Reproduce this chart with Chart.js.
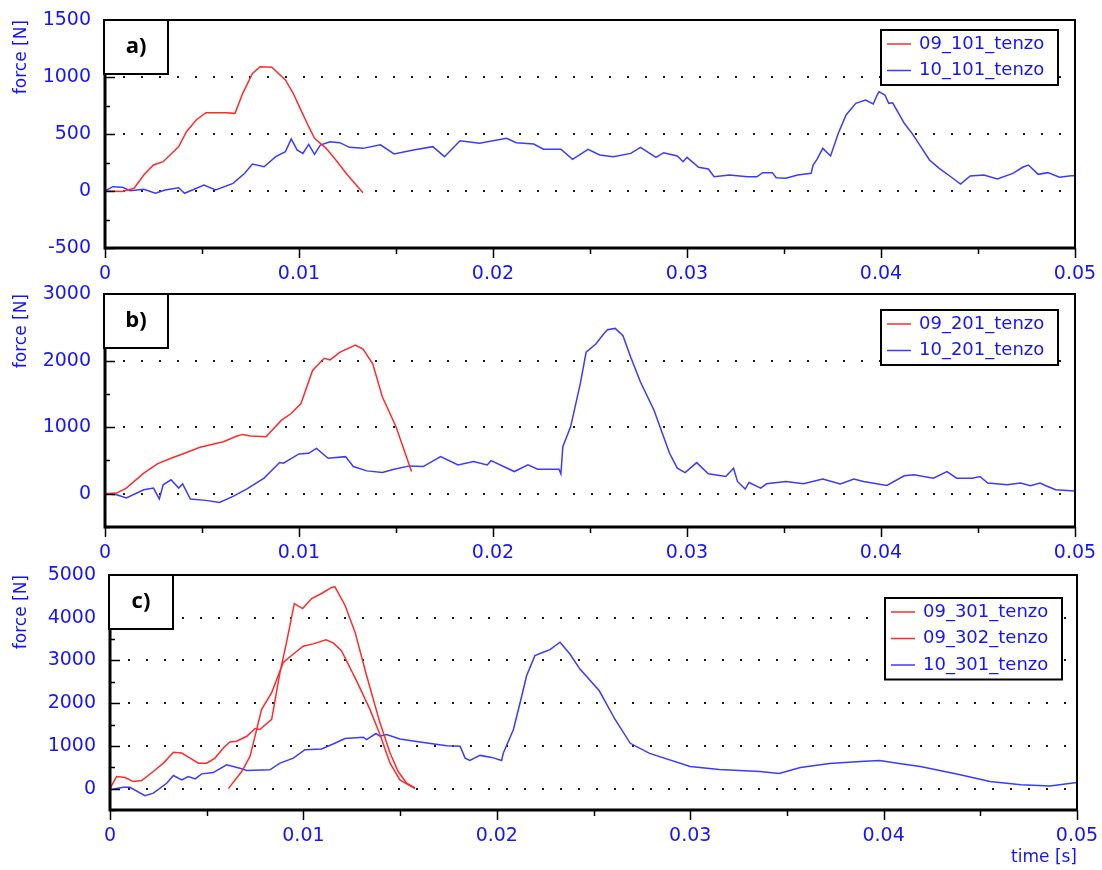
<!DOCTYPE html>
<html>
<head>
<meta charset="utf-8">
<script src="https://cdn.jsdelivr.net/npm/chart.js@4.4.0/dist/chart.umd.min.js"></script>
<style>
    body { margin: 0; background: #ffffff; }
    #wrap { position: relative; width: 1102px; height: 870px; overflow: hidden; }
    canvas { position: absolute; left: 0; }
</style>
</head>
<body>
<div id="wrap">
    <canvas id="panelA" width="1102" height="285" style="top:0px"></canvas>
    <canvas id="panelB" width="1102" height="285" style="top:280px"></canvas>
    <canvas id="panelC" width="1102" height="310" style="top:560px"></canvas>
</div>
<script>
// Force traces (time in s, force in N)
const xTickValues = [0, 0.01, 0.02, 0.03, 0.04, 0.05];
const xTickLabels = ['0', '0.01', '0.02', '0.03', '0.04', '0.05'];

const yTicksA = [-500, 0, 500, 1000, 1500];
const yTicksB = [0, 1000, 2000, 3000];
const yTicksC = [0, 1000, 2000, 3000, 4000, 5000];

// panel a)
const timeA101_09 = [0, 0.0009, 0.0015, 0.0020, 0.0025, 0.0030, 0.0038, 0.0042, 0.0047, 0.0052,
    0.0062, 0.0067, 0.0071, 0.0076, 0.0080, 0.0086, 0.0093, 0.0097, 0.0101, 0.0105,
    0.0108, 0.0114, 0.0119, 0.0125, 0.0133];
const forceA101_09 = [0, -5, 24, 140, 228, 257, 389, 520, 623, 687,
    687, 681, 857, 1032, 1090, 1085, 974, 857, 710, 564,
    462, 374, 272, 140, -15];

const timeA101_10 = [0, 0.0004, 0.0009, 0.0013, 0.0020, 0.0026, 0.0031, 0.0038, 0.0041, 0.0051,
    0.0057, 0.0066, 0.0072, 0.0076, 0.0082, 0.0088, 0.0093, 0.0096, 0.0099, 0.0102,
    0.0105, 0.0108, 0.0111, 0.0116, 0.0121, 0.0126, 0.0133, 0.0142, 0.0149, 0.0159,
    0.0169, 0.0175, 0.0183, 0.0193, 0.0207, 0.0212, 0.0221, 0.0226, 0.0235, 0.0241,
    0.0249, 0.0255, 0.0262, 0.0271, 0.0276, 0.0284, 0.0288, 0.0295, 0.0298, 0.0300,
    0.0306, 0.0311, 0.0314, 0.0322, 0.0331, 0.0336, 0.0339, 0.0344, 0.0346, 0.0351,
    0.0357, 0.0364, 0.0365, 0.0367, 0.0370, 0.0374, 0.0378, 0.0382, 0.0387, 0.0392,
    0.0396, 0.0398, 0.0399, 0.0402, 0.0404, 0.0406, 0.0412, 0.0416, 0.0420, 0.0425,
    0.0430, 0.0436, 0.0441, 0.0446, 0.0453, 0.0460, 0.0468, 0.0473, 0.0476, 0.0481,
    0.0486, 0.0492, 0.0498, 0.0500];
const forceA101_10 = [0, 38, 33, 3, 15, -20, 9, 29, -20, 53,
    9, 67, 155, 237, 213, 301, 345, 456, 360, 330,
    409, 322, 403, 432, 424, 383, 374, 405, 325, 360,
    389, 301, 441, 418, 462, 424, 412, 366, 366, 278,
    366, 316, 301, 330, 383, 295, 336, 307, 257, 295,
    208, 193, 125, 140, 125, 125, 161, 161, 117, 111,
    140, 155, 228, 278, 374, 307, 506, 667, 769, 798,
    763, 842, 871, 842, 769, 774, 594, 506, 403, 272,
    199, 125, 61, 132, 140, 105, 155, 208, 228, 146,
    161, 120, 134, 134];

// panel b)
const timeB201_09 = [0, 0.0006, 0.0011, 0.0020, 0.0027, 0.0034, 0.0040, 0.0049, 0.0061, 0.0068,
    0.0071, 0.0075, 0.0083, 0.0091, 0.0096, 0.0101, 0.0107, 0.0113, 0.0116, 0.0121,
    0.0129, 0.0133, 0.0138, 0.0143, 0.0150, 0.0158];
const forceB201_09 = [0, 10, 85, 309, 448, 533, 597, 697, 781, 866,
    891, 866, 856, 1105, 1205, 1354, 1851, 2035, 2010, 2124,
    2234, 2174, 1951, 1453, 1005, 333];

const timeB201_10 = [0, 0.0006, 0.0011, 0.0020, 0.0025, 0.0028, 0.0030, 0.0034, 0.0038, 0.0040,
    0.0044, 0.0052, 0.0059, 0.0066, 0.0073, 0.0082, 0.0090, 0.0092, 0.0100, 0.0105,
    0.0109, 0.0115, 0.0124, 0.0128, 0.0135, 0.0143, 0.0149, 0.0157, 0.0164, 0.0173,
    0.0182, 0.0190, 0.0197, 0.0199, 0.0211, 0.0218, 0.0223, 0.0234, 0.0235, 0.0236,
    0.0240, 0.0245, 0.0248, 0.0253, 0.0257, 0.0259, 0.0263, 0.0267, 0.0271, 0.0276,
    0.0283, 0.0287, 0.0291, 0.0295, 0.0299, 0.0305, 0.0311, 0.0320, 0.0324, 0.0326,
    0.0330, 0.0332, 0.0338, 0.0341, 0.0351, 0.0360, 0.0370, 0.0379, 0.0386, 0.0391,
    0.0403, 0.0412, 0.0417, 0.0427, 0.0434, 0.0439, 0.0447, 0.0451, 0.0455, 0.0465,
    0.0472, 0.0477, 0.0482, 0.0485, 0.0490, 0.0500];
const forceB201_10 = [0, -15, -64, 60, 85, -79, 134, 209, 85, 149,
    -79, -100, -130, -40, 70, 234, 468, 458, 597, 607,
    682, 533, 557, 408, 343, 318, 368, 418, 408, 557,
    433, 483, 433, 497, 333, 433, 368, 368, 299, 706,
    1005, 1653, 2125, 2249, 2398, 2463, 2483, 2374, 2050, 1677,
    1254, 930, 607, 383, 318, 467, 299, 258, 383, 184,
    70, 169, 85, 149, 184, 149, 219, 145, 219, 184,
    124, 269, 284, 234, 333, 234, 234, 258, 160, 134,
    160, 119, 160, 119, 60, 40];

// panel c)
const timeC301_09 = [0, 0.00034, 0.00078, 0.00121, 0.00164, 0.00224, 0.00276, 0.00328, 0.00371, 0.00414,
    0.00457, 0.0050, 0.00543, 0.00586, 0.0062, 0.00655, 0.00707, 0.0075, 0.00775, 0.00836,
    0.00879, 0.00913, 0.00953, 0.00996, 0.01043, 0.01094, 0.01146, 0.01163, 0.01215, 0.01267,
    0.01327, 0.01396, 0.01448, 0.0149, 0.01534, 0.01577];
const forceC301_09 = [0, 283, 259, 165, 189, 401, 597, 849, 833, 715,
    597, 597, 715, 951, 1093, 1108, 1226, 1407, 1383, 1620,
    2720, 3427, 4331, 4213, 4449, 4567, 4708, 4724, 4292, 3663,
    2641, 1540, 833, 401, 126, 16];

const timeC302_09 = [0.00612, 0.00681, 0.00724, 0.00784, 0.00836, 0.00896, 0.00948, 0.00999, 0.01051, 0.01117,
    0.01154, 0.01197, 0.01275, 0.01344, 0.01396, 0.01448, 0.01499, 0.01577];
const forceC302_09 = [0, 401, 755, 1855, 2248, 2955, 3152, 3332, 3388, 3482,
    3411, 3231, 2523, 1855, 1266, 597, 204, 0];

const timeC301_10 = [0, 0.00069, 0.00103, 0.00181, 0.00224, 0.00293, 0.00328, 0.00371, 0.00405, 0.0044,
    0.00474, 0.00534, 0.00603, 0.00672, 0.00707, 0.00827, 0.00879, 0.00948, 0.01008, 0.01094,
    0.01154, 0.01215, 0.0131, 0.01327, 0.01375, 0.01396, 0.0143, 0.01499, 0.01603, 0.01741,
    0.0181, 0.01818, 0.01836, 0.01861, 0.01913, 0.01974, 0.02025, 0.02034, 0.02086, 0.02129,
    0.02154, 0.02197, 0.0224, 0.02275, 0.02327, 0.02378, 0.0243,
    0.0253, 0.0261, 0.0269, 0.0279, 0.0300, 0.0315, 0.0336, 0.0346, 0.0357, 0.0372,
    0.0388, 0.0398, 0.0408, 0.0419, 0.0439, 0.0455, 0.0471, 0.0486, 0.0500];
const forceC301_10 = [-24, 31, 31, -165, -106, 126, 307, 204, 283, 228,
    346, 377, 558, 479, 424, 440, 597, 715, 912, 927,
    1045, 1171, 1203, 1148, 1290, 1226, 1266, 1164, 1093, 1006,
    990, 912, 715, 660, 778, 731, 660, 833, 1383, 2169,
    2641, 3113, 3191, 3254, 3427, 3152, 2798,
    2290, 1630, 1061, 825, 519, 448, 400, 354, 495, 590,
    637, 660, 590, 519, 330, 165, 90, 60, 141];

const RED = '#ff2b2b';
const BLUE = '#3b3bff';
const TEXT_BLUE = '#1414ff';
const FONT = 'DejaVu Sans';

function toPoints(times, forces) {
    return times.map((t, i) => ({ x: t, y: forces[i] }));
}

function makeDataset(label, color, times, forces) {
    return {
        label: label,
        data: toPoints(times, forces),
        borderColor: color,
        borderWidth: 1.5,
        pointRadius: 0,
        tension: 0,
        fill: false
    };
}

// Frame, dotted grid, inner ticks, the a)/b)/c) box and the boxed legend
const panelDecor = {
    id: 'panelDecor',
    beforeDatasetsDraw(chart, args, opts) {
        const { ctx, chartArea } = chart;
        const yScale = chart.scales.y;
        ctx.save();
        ctx.fillStyle = '#1a1a1a';
        opts.yTicks.forEach((v) => {
            if (v <= yScale.min || v >= yScale.max) return;
            const py = Math.round(yScale.getPixelForValue(v));
            for (let px = chartArea.left + 18; px < chartArea.right - 6; px += 18) {
                ctx.fillRect(px, py - 1, 2, 2);
            }
        });
        ctx.restore();
    },
    afterDraw(chart, args, opts) {
        const { ctx, chartArea } = chart;
        const xScale = chart.scales.x;
        const yScale = chart.scales.y;
        ctx.save();

        // y ticks point into the plot
        ctx.strokeStyle = '#000';
        ctx.lineWidth = 1.5;
        const yMinor = opts.yTicks[1] - opts.yTicks[0];
        for (let v = yScale.min; v <= yScale.max; v += yMinor / 2) {
            const py = Math.round(yScale.getPixelForValue(v)) + 0.5;
            const len = opts.yTicks.includes(v) ? 10 : 5;
            ctx.beginPath();
            ctx.moveTo(chartArea.left, py);
            ctx.lineTo(chartArea.left + len, py);
            ctx.stroke();
        }
        // x ticks hang below the axis
        for (let v = 0; v <= 0.0501; v += 0.005) {
            const px = Math.round(xScale.getPixelForValue(v)) + 0.5;
            const major = Math.abs(v / 0.01 - Math.round(v / 0.01)) < 1e-6;
            ctx.beginPath();
            ctx.moveTo(px, chartArea.bottom);
            ctx.lineTo(px, chartArea.bottom + (major ? 10 : 6));
            ctx.stroke();
        }

        // frame
        ctx.lineWidth = 2;
        ctx.strokeRect(chartArea.left, chartArea.top, chartArea.right - chartArea.left, chartArea.bottom - chartArea.top);
        ctx.lineWidth = 3;
        ctx.beginPath();
        ctx.moveTo(chartArea.left, chartArea.top);
        ctx.lineTo(chartArea.left, chartArea.bottom);
        ctx.lineTo(chartArea.right, chartArea.bottom);
        ctx.stroke();

        // panel tag box
        const tx = chartArea.left - 1;
        const ty = chartArea.top;
        ctx.lineWidth = 2;
        ctx.fillStyle = '#fff';
        ctx.fillRect(tx, ty, 64, 54);
        ctx.strokeRect(tx, ty, 64, 54);
        ctx.fillStyle = '#000';
        ctx.font = 'bold 22px "Open Sans"';
        ctx.textAlign = 'center';
        ctx.textBaseline = 'middle';
        ctx.fillText(opts.tag, tx + 32, ty + 27);

        // legend box
        const datasets = chart.data.datasets;
        const lw = 177;
        const rowH = 26.5;
        const lh = datasets.length * rowH + 2;
        const lx = chartArea.right - opts.legendRight - lw;
        const ly = chartArea.top + opts.legendTop;
        ctx.fillStyle = '#fff';
        ctx.fillRect(lx, ly, lw, lh);
        ctx.strokeStyle = '#000';
        ctx.lineWidth = 2;
        ctx.strokeRect(lx, ly, lw, lh);
        ctx.font = '18px "' + FONT + '"';
        ctx.textAlign = 'left';
        datasets.forEach((ds, i) => {
            const cy = ly + 14 + i * rowH;
            ctx.strokeStyle = ds.borderColor;
            ctx.lineWidth = 1.5;
            ctx.beginPath();
            ctx.moveTo(lx + 6, cy);
            ctx.lineTo(lx + 30, cy);
            ctx.stroke();
            ctx.fillStyle = TEXT_BLUE;
            ctx.fillText(ds.label, lx + 38, cy);
        });
        ctx.restore();
    }
};

function initPanel(canvasId, cfg) {
    const ctx = document.getElementById(canvasId);
    return new Chart(ctx, {
        type: 'line',
        data: { datasets: cfg.datasets },
        plugins: [panelDecor],
        options: {
            responsive: false,
            animation: false,
            layout: {
                padding: { top: cfg.padTop, right: cfg.padRight, left: 0, bottom: 0 }
            },
            scales: {
                x: {
                    type: 'linear',
                    min: 0,
                    max: 0.05,
                    grid: { display: false },
                    border: { display: false },
                    afterBuildTicks: (scale) => {
                        scale.ticks = xTickValues.map((v) => ({ value: v }));
                    },
                    afterFit: (scale) => {
                        // pin the plot box: no label overflow padding
                        scale.height = cfg.xHeight;
                        scale.paddingLeft = 0;
                        scale.paddingRight = 0;
                    },
                    ticks: {
                        color: TEXT_BLUE,
                        padding: 7,
                        maxRotation: 0,
                        autoSkip: false,
                        font: { family: FONT, size: 19 },
                        callback: (value) => xTickLabels[xTickValues.indexOf(value)]
                    },
                    title: {
                        display: !!cfg.xTitle,
                        text: cfg.xTitle || '',
                        align: 'end',
                        color: TEXT_BLUE,
                        font: { family: FONT, size: 17 },
                        padding: { top: 0, bottom: 2 }
                    }
                },
                y: {
                    min: cfg.yMin,
                    max: cfg.yMax,
                    grid: { display: false },
                    border: { display: false },
                    afterBuildTicks: (scale) => {
                        scale.ticks = cfg.yTicks.map((v) => ({ value: v }));
                    },
                    afterFit: (scale) => {
                        scale.width = cfg.yWidth;
                        scale.paddingTop = 0;
                        scale.paddingBottom = 0;
                    },
                    ticks: {
                        color: TEXT_BLUE,
                        padding: 6,
                        font: { family: FONT, size: 19 },
                        callback: (value) => String(value)
                    },
                    title: {
                        display: true,
                        text: 'force [N]',
                        align: 'end',
                        color: TEXT_BLUE,
                        font: { family: FONT, size: 17 },
                        padding: { top: 11, bottom: 0 }
                    }
                }
            },
            plugins: {
                legend: { display: false },
                tooltip: { enabled: false },
                panelDecor: {
                    tag: cfg.tag,
                    yTicks: cfg.yTicks,
                    legendRight: cfg.legendRight,
                    legendTop: cfg.legendTop
                }
            }
        }
    });
}

initPanel('panelA', {
    tag: 'a)',
    yMin: -500, yMax: 1500, yTicks: yTicksA,
    padTop: 20, padRight: 27, yWidth: 105, xHeight: 37,
    legendRight: 17, legendTop: 10,
    datasets: [
        makeDataset('09_101_tenzo', RED, timeA101_09, forceA101_09),
        makeDataset('10_101_tenzo', BLUE, timeA101_10, forceA101_10)
    ]
});

initPanel('panelB', {
    tag: 'b)',
    yMin: -500, yMax: 3000, yTicks: yTicksB,
    padTop: 14, padRight: 27, yWidth: 105, xHeight: 38,
    legendRight: 17, legendTop: 16,
    datasets: [
        makeDataset('09_201_tenzo', RED, timeB201_09, forceB201_09),
        makeDataset('10_201_tenzo', BLUE, timeB201_10, forceB201_10)
    ]
});

initPanel('panelC', {
    tag: 'c)',
    yMin: -500, yMax: 5000, yTicks: yTicksC,
    padTop: 15, padRight: 25, yWidth: 110, xHeight: 60,
    xTitle: 'time [s]',
    legendRight: 15, legendTop: 23,
    datasets: [
        makeDataset('09_301_tenzo', RED, timeC301_09, forceC301_09),
        makeDataset('09_302_tenzo', RED, timeC302_09, forceC302_09),
        makeDataset('10_301_tenzo', BLUE, timeC301_10, forceC301_10)
    ]
});
</script>
</body>
</html>
